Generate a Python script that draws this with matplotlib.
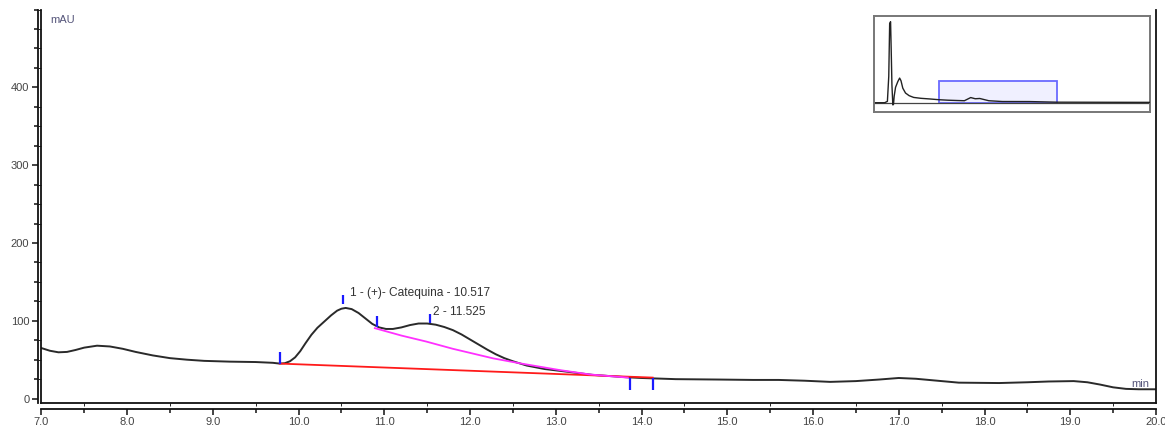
import matplotlib
matplotlib.use("Agg")
import matplotlib.pyplot as plt
from matplotlib.patches import Rectangle
from matplotlib.ticker import MultipleLocator

# ---- data ----
time_min = [7.0, 7.1, 7.2, 7.3, 7.4, 7.5, 7.65, 7.8, 7.95, 8.1, 8.3, 8.5, 8.7, 8.9, 9.2, 9.5, 9.7,
            9.78, 9.84, 9.9, 9.96, 10.02, 10.08, 10.15, 10.22, 10.3, 10.38, 10.45, 10.5, 10.55,
            10.62, 10.7, 10.78, 10.86, 10.94, 11.02, 11.1, 11.2, 11.3, 11.4, 11.5, 11.6, 11.7,
            11.8, 11.9, 12.0, 12.1, 12.2, 12.3, 12.4, 12.5, 12.66, 12.87, 13.1, 13.43, 13.82,
            14.0, 14.4, 14.9, 15.3, 15.6, 15.9, 16.2, 16.5, 16.77, 17.0, 17.2, 17.45, 17.7,
            18.17, 18.5, 18.75, 19.04, 19.2, 19.35, 19.5, 19.65, 19.8, 20.0]
signal_mau = [65, 61.5, 59.5, 60, 62.5, 65.5, 68, 67, 64, 60, 55.5, 52, 50, 48.5, 47.5, 47, 46,
              45, 45.5, 48, 53, 61, 71, 82, 91, 99, 107, 113, 115.5, 116.5,
              115, 110, 103, 96, 91.5, 89.5, 89.5, 91.5, 94.5, 96.5, 96.5, 95, 92,
              88, 82.5, 76, 69.5, 63, 57, 52, 48, 42.5, 38, 35, 30.5, 27.5,
              26.5, 25, 24.5, 24, 24, 23, 21.5, 22.5, 24.5, 26.5, 25.5, 23, 20.5,
              20, 21, 22, 22.5, 21, 18, 14.5, 12.5, 12, 12]

baseline_t = [9.78, 14.13]
baseline_y = [45, 27]

skim_t = [10.89, 11.2, 11.49, 11.8, 12.27, 12.6, 13.05, 13.4, 13.84]
skim_y = [90.5, 81, 73.3, 64, 51.7, 45, 36.6, 31, 27]

tick_t = [9.78, 10.52, 10.91, 11.53, 13.87, 14.13]
tick_y0 = [44.5, 121.5, 92, 97, 11, 11]
tick_y1 = [60, 133, 106, 108.6, 26, 26]

peak_labels = ["1 - (+)- Catequina - 10.517", "2 - 11.525"]
peak_label_t = [10.6, 11.57]
peak_label_y = [135.5, 111]

overview_t = [0, 1.0, 1.3, 1.45, 1.55, 1.65, 1.72, 1.8, 1.9, 1.97, 2.05, 2.2, 2.45, 2.65, 2.8,
              3.0, 3.3, 3.7, 4.2, 5.0, 6.0, 7.0, 8.0, 9.0, 9.8, 10.5, 11.0, 11.5, 12.5, 14.0,
              17.0, 20.0, 25.0, 30.3]
overview_y = [0, 0, 30, 600, 1800, 1840, 1200, 400, -50, -40, 150, 350, 480, 560, 500,
              330, 220, 160, 120, 100, 85, 68, 57, 50, 45, 117, 90, 96, 45, 27,
              26, 12, 10, 8]
zoom_window_t = [7.0, 20.0]
zoom_window_y = [0, 500]

x_range = [7.0, 20.0]
y_range = [-5, 500]

# ---- figure ----
W, H = 1165, 430
fig = plt.figure(figsize=(W / 100, H / 100), dpi=100)
plt.rcParams['font.family'] = ['Liberation Sans Narrow', 'Liberation Sans', 'DejaVu Sans']

left_px, right_px, top_px, bottom_px = 41.3, 1156, 9.5, 402.5
pos = [left_px / W, 1 - bottom_px / H, (right_px - left_px) / W, (bottom_px - top_px) / H]

# frame axes (plot border)
ax = fig.add_axes(pos)
ax.set_xlim(*x_range)
ax.set_ylim(*y_range)
for s in ['left', 'bottom', 'right']:
    ax.spines[s].set_color('#111111')
    ax.spines[s].set_linewidth(1.3)
ax.spines['top'].set_visible(False)
ax.tick_params(left=False, bottom=False, labelleft=False, labelbottom=False)

ax.plot(time_min, signal_mau, color='#2a2a2a', lw=1.4, solid_joinstyle='round',
        solid_capstyle='round')
ax.plot(baseline_t, baseline_y, color='#ff1a1a', lw=1.3)
ax.plot(skim_t, skim_y, color='#ff30ff', lw=1.3)
ax.vlines(tick_t, tick_y0, tick_y1, color='#1a1aff', lw=1.6)
for lab, t, y in zip(peak_labels, peak_label_t, peak_label_y):
    ax.text(t, y, lab, fontsize=8.6, color='#333333', va='center', ha='left')

ax.text(0.008, 0.985, 'mAU', transform=ax.transAxes, fontsize=8, color='#55557a',
        ha='left', va='top')
ax.text(0.994, 0.035, 'min', transform=ax.transAxes, fontsize=8, color='#55557a',
        ha='right', va='bottom')

# axis lines (offset)
ax2 = fig.add_axes(pos, sharex=ax, sharey=ax)
ax2.patch.set_visible(False)
ax2.spines['top'].set_visible(False)
ax2.spines['right'].set_visible(False)
ax2.spines['left'].set_position(('outward', 2.6))
ax2.spines['bottom'].set_position(('outward', 4.5))
for s in ['left', 'bottom']:
    ax2.spines[s].set_linewidth(1.3)
    ax2.spines[s].set_color('#111111')
ax2.xaxis.set_minor_locator(MultipleLocator(0.5))
ax2.yaxis.set_minor_locator(MultipleLocator(25))
ax2.set_xticks([7 + i for i in range(14)])
ax2.set_xticklabels([f"{7 + i:.1f}" for i in range(14)])
ax2.set_yticks([0, 100, 200, 300, 400])
ax2.tick_params(axis='both', which='major', length=4.5, width=1.1, color='#111111',
                labelsize=8, labelcolor='#444444', pad=1.5)
ax2.tick_params(axis='both', which='minor', length=3, width=1.1, color='#111111')
ax2.set_xlim(*x_range)
ax2.set_ylim(*y_range)

# inset overview
ins = fig.add_axes([874 / W, 1 - 112 / H, 276 / W, 96 / H])
ins.set_xlim(-0.18, 30.3)
ins.set_ylim(-211, 1970)
ins.set_xticks([])
ins.set_yticks([])
for s in ins.spines.values():
    s.set_color('#777777')
    s.set_linewidth(1.4)
ins.add_patch(Rectangle((zoom_window_t[0], zoom_window_y[0]),
                        zoom_window_t[1] - zoom_window_t[0],
                        zoom_window_y[1] - zoom_window_y[0],
                        facecolor='#f0f0ff', edgecolor='#6a6aff', lw=1.3, zorder=1))
ins.axhline(-14, color='#444444', lw=0.9, zorder=2)
ins.plot(overview_t, overview_y, color='#222222', lw=1.0, zorder=3)

fig.savefig('out.png', dpi=100)
